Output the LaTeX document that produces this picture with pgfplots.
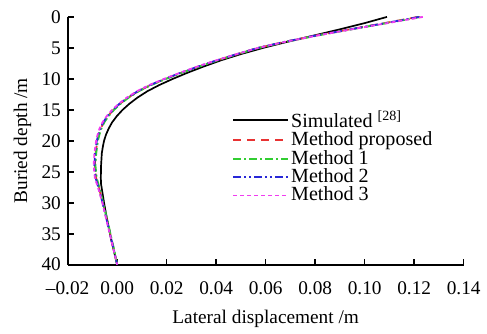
\documentclass[border=0pt]{standalone}
\usepackage{pgfplots}
\pgfplotsset{compat=1.18}
\usepackage{fontspec}
\setmainfont{Liberation Serif}
\definecolor{cred}{RGB}{232,50,50}
\definecolor{cgreen}{RGB}{50,205,50}
\definecolor{cblue}{RGB}{40,40,215}
\definecolor{cmag}{RGB}{240,60,240}
\begin{document}
\fontsize{9.7}{11}\selectfont
\begin{tikzpicture}
\begin{axis}[
  scale only axis, width=199pt, height=124.5pt,
  xmin=-0.02, xmax=0.14, ymin=0, ymax=40,
  y dir=reverse,
  axis x line*=bottom, axis y line*=left,
  axis line style={line width=1pt},
  every tick/.style={line width=0.8pt, black},
  tick align=inside, major tick length=3pt,
  xtick={-0.02,0,0.02,0.04,0.06,0.08,0.10,0.12,0.14},
  xticklabels={–0.02,0.00,0.02,0.04,0.06,0.08,0.10,0.12,0.14},
  ytick={0,5,...,40},
  xticklabel shift=5pt,
  /pgf/number format/assume math mode=true,
  tick label style={font=\fontsize{9.7}{11}\selectfont},
  label style={font=\fontsize{9.7}{11}\selectfont},
  xlabel={Lateral displacement /m},
  ylabel={Buried depth /m},
  xlabel style={yshift=-1pt},
  ylabel style={yshift=-1.5pt},
  legend cell align=left,
  legend style={draw=none, fill=none, at={(0.40,0.649)}, anchor=north west,
    font=\fontsize{10.1}{11}\selectfont, row sep=-1.2pt,
    nodes={inner sep=1pt}},
  legend image code/.code={\draw[#1] (0pt,0pt) -- (21pt,0pt); \path (0pt,0pt) -- (27.5pt,0pt);},
]
\addplot[black, line width=0.85pt] coordinates {
(0.109,0) (0.100,1) (0.090,2) (0.0795,3) (0.069,4) (0.059,5) (0.050,6) (0.042,7) (0.035,8) (0.0285,9) (0.0225,10) (0.017,11) (0.0122,12) (0.0083,13) (0.005,14) (0.0022,15) (-0.0001,16) (-0.002,17) (-0.0034,18) (-0.0045,19) (-0.0053,20) (-0.0058,21) (-0.0062,22) (-0.0065,24) (-0.0066,26) (-0.0065,27) (-0.0061,28) (-0.0053,30) (-0.0044,32) (-0.0034,34) (-0.0024,36) (-0.0012,38) (0.0,40)};
\addplot[cred, line width=0.9pt, dash pattern=on 4pt off 3pt] coordinates {
(0.1215,0) (0.108,1) (0.094,2) (0.0805,3) (0.068,4) (0.057,5) (0.0485,6) (0.0405,7) (0.033,8) (0.026,9) (0.0195,10) (0.0135,11) (0.0085,12) (0.0045,13) (0.0012,14) (-0.0015,15) (-0.0037,16) (-0.0054,17) (-0.0066,18) (-0.0074,19) (-0.008,20) (-0.0087,22) (-0.009,24) (-0.0085,26) (-0.0071,28) (-0.0058,30) (-0.0046,32) (-0.0034,34) (-0.0023,36) (-0.0011,38) (0.0,40)};
\addplot[cgreen, line width=1pt, dash pattern=on 4pt off 1.5pt on 1pt off 1.5pt] coordinates {
(0.1225,0) (0.1088,1) (0.0946,2) (0.0808,3) (0.0682,4) (0.0572,5) (0.0487,6) (0.0407,7) (0.0332,8) (0.0262,9) (0.0197,10) (0.0137,11) (0.0087,12) (0.0047,13) (0.0014,14) (-0.0013,15) (-0.0035,16) (-0.0052,17) (-0.0064,18) (-0.0072,19) (-0.0078,20) (-0.0085,22) (-0.0088,24) (-0.0083,26) (-0.0069,28) (-0.0057,30) (-0.0045,32) (-0.0033,34) (-0.0022,36) (-0.001,38) (0.0,40)};
\addplot[cblue, line width=0.9pt, dash pattern=on 4pt off 1.5pt on 1pt off 1.5pt on 1pt off 1.5pt] coordinates {
(0.122,0) (0.1084,1) (0.0942,2) (0.0804,3) (0.0679,4) (0.0569,5) (0.0484,6) (0.0403,7) (0.0328,8) (0.0258,9) (0.0193,10) (0.0133,11) (0.0083,12) (0.0043,13) (0.001,14) (-0.0017,15) (-0.0039,16) (-0.0056,17) (-0.0068,18) (-0.0076,19) (-0.0082,20) (-0.0089,22) (-0.0092,24) (-0.0087,26) (-0.0072,28) (-0.0059,30) (-0.0047,32) (-0.0035,34) (-0.0023,36) (-0.0011,38) (0.0,40)};
\addplot[cmag, line width=0.9pt, dash pattern=on 2pt off 1.5pt] coordinates {
(0.1235,0) (0.1092,1) (0.0948,2) (0.0808,3) (0.0681,4) (0.057,5) (0.0483,6) (0.0401,7) (0.0325,8) (0.0255,9) (0.019,10) (0.013,11) (0.008,12) (0.004,13) (0.0007,14) (-0.002,15) (-0.0042,16) (-0.0059,17) (-0.0071,18) (-0.0079,19) (-0.0085,20) (-0.0092,22) (-0.0095,24) (-0.009,26) (-0.0074,28) (-0.006,30) (-0.0048,32) (-0.0036,34) (-0.0024,36) (-0.0012,38) (0.0,40)};
\legend{Simulated \textsuperscript{[28]}, Method proposed, Method 1, Method 2, Method 3}
\end{axis}
\path[use as bounding box] (-34pt,-30.5pt) rectangle (209.5pt,133pt);
\end{tikzpicture}
\end{document}
